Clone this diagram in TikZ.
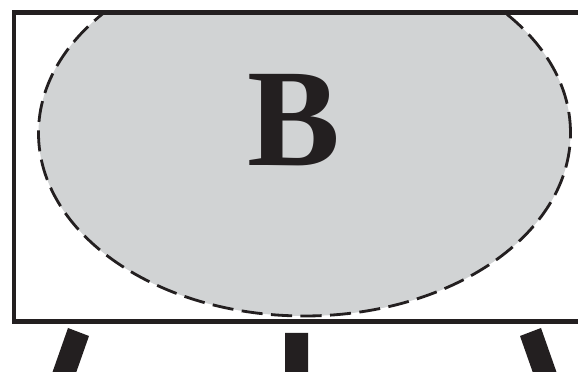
\documentclass[tikz,border=0pt]{standalone}
\usepackage{fontspec}
\setmainfont{Liberation Serif}
\usepackage{tkz-euclide}
\definecolor{BlobClr}{RGB}{209,211,212}
\definecolor{FrameClr}{RGB}{35,31,32}

\begin{document}
\begin{tikzpicture}[x=.025cm,y=.025cm]
\useasboundingbox (0,0) rectangle (578,372);
\clip (0,0) rectangle (578,372);

\tkzDefPoints{14/50.5/A,600/50.5/B,600/359.5/C,14/359.5/D}
\tkzDefPoint(304.5,239){O}

% the blob, cut off by the top of the frame
\begin{scope}
\clip (A) rectangle (C);
\fill[BlobClr] (O) ellipse [x radius=266, y radius=183];
\draw[FrameClr,line width=2pt,dash pattern=on 15pt off 6pt] (O) ellipse [x radius=266, y radius=183];
\end{scope}

\draw[FrameClr,line width=3.5pt] (C) -- (D) -- (A) -- (B);

% legs
\tkzDefPoints{68/44/E,89/36/F,72.4/-11.2/G,51.4/-3.2/H}
\tkzDefPoints{285/39/I,308/39/J,308/-5/K,285/-5/L}
\tkzDefPoints{541/44/M,520/36/N,536.6/-11.2/P,557.6/-3.2/Q}
\tkzFillPolygon[fill=FrameClr](E,F,G,H)
\tkzFillPolygon[fill=FrameClr](I,J,K,L)
\tkzFillPolygon[fill=FrameClr](M,N,P,Q)

\node[font=\fontsize{99}{99}\selectfont\bfseries,text=FrameClr] (lblB) at (294,252) {B};

\end{tikzpicture}
\end{document}
